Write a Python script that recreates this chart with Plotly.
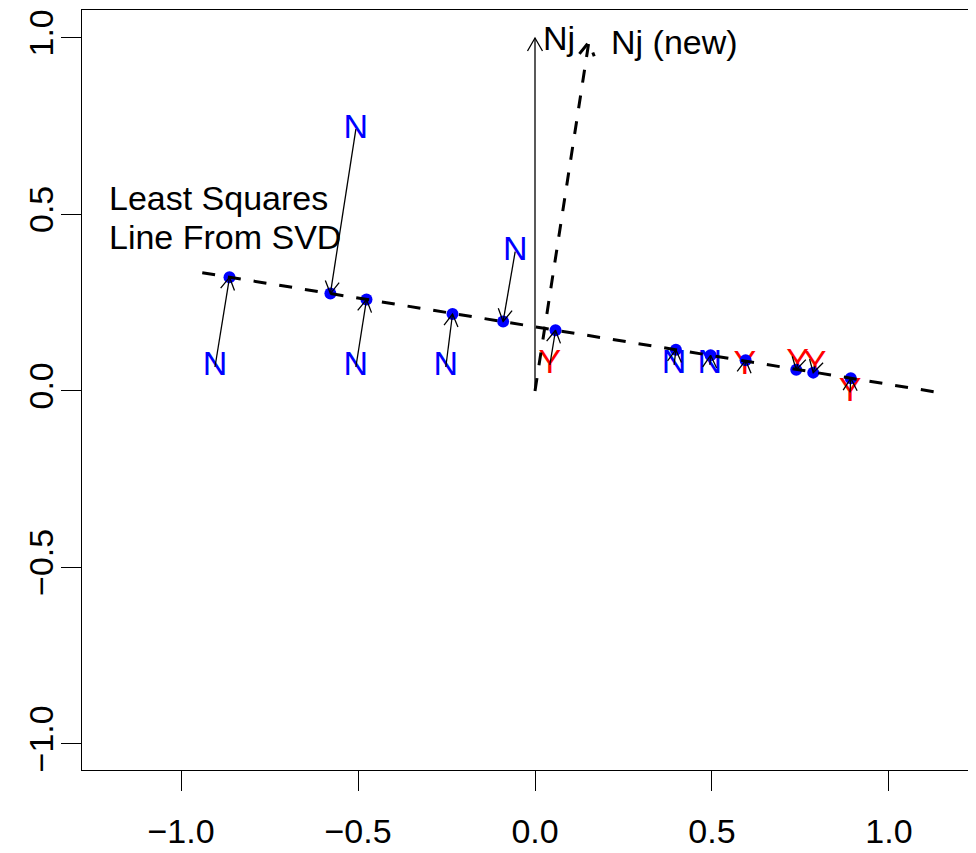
import math
import plotly.graph_objects as go

# ---- data ----
labels = ["N", "N", "N", "N", "N", "Y", "N", "N", "Y", "Y", "Y", "Y"]
label_x = [-0.904, -0.506, -0.506, -0.252, -0.056, 0.042, 0.393, 0.494, 0.593, 0.742, 0.791, 0.890]
label_y = [0.068, 0.742, 0.068, 0.068, 0.395, 0.074, 0.074, 0.074, 0.071, 0.077, 0.071, -0.004]

proj_x = [-0.863, -0.578, -0.476, -0.233, -0.090, 0.058, 0.398, 0.496, 0.595, 0.738, 0.786, 0.892]
proj_y = [0.322, 0.276, 0.259, 0.218, 0.197, 0.172, 0.117, 0.101, 0.087, 0.060, 0.052, 0.036]

ls_x = [-0.94, 1.145]
ls_y = [0.335, -0.005]

nj_x = [0.0, 0.0]
nj_y = [0.0, 1.0]
njnew_x = [0.0, 0.152]
njnew_y = [0.0, 0.988]

tick_vals = [-1.0, -0.5, 0.0, 0.5, 1.0]
tick_text = ["\u22121.0", "\u22120.5", "0.0", "0.5", "1.0"]

label_colors = {"N": "#0000FF", "Y": "#FF0000"}

# ---- layout geometry (page has an 8px body margin) ----
OFF = 8
W, H = 976, 853
ML, MT = 82 - OFF, 10 - OFF
MR = OFF
MB = H - (770 - OFF)
XR = [-1.2797, 1.2458]
YR = [-1.0737, 1.0793]
PX = (W - ML - MR) / (XR[1] - XR[0])
PY = (H - MT - MB) / (YR[1] - YR[0])

FONT = "Liberation Sans, Arial, sans-serif"
FS = 34


def head(x0, y0, x1, y1, length_px=14.0, angle_deg=30.0):
    """open V arrow head (R style) at (x1, y1), computed in pixel space"""
    a = math.atan2((y1 - y0) * PY, (x1 - x0) * PX)
    xs, ys = [], []
    for s in (1, -1):
        b = a + math.pi - s * math.radians(angle_deg)
        xs.append(x1 + length_px * math.cos(b) / PX)
        ys.append(y1 + length_px * math.sin(b) / PY)
    return [xs[0], x1, xs[1]], [ys[0], y1, ys[1]]


fig = go.Figure()

# labels (drawn first, underneath)
fig.add_trace(go.Scatter(
    x=label_x, y=label_y, mode="text", text=labels,
    textposition="middle center",
    textfont=dict(family=FONT, size=FS, color=[label_colors[l] for l in labels]),
    hoverinfo="skip", showlegend=False))

# projected points
fig.add_trace(go.Scatter(
    x=proj_x, y=proj_y, mode="markers",
    marker=dict(size=12, color="#0000FF", line=dict(width=0)),
    hoverinfo="skip", showlegend=False))

# least squares line
fig.add_trace(go.Scatter(
    x=ls_x, y=ls_y, mode="lines",
    line=dict(color="black", width=3, dash="13px,13px"),
    hoverinfo="skip", showlegend=False))

# arrows from labels to projections
ax, ay = [], []
for x0, y0, x1, y1 in zip(label_x, label_y, proj_x, proj_y):
    ax += [x0, x1, None]
    ay += [y0, y1, None]
    hx, hy = head(x0, y0, x1, y1)
    ax += hx + [None]
    ay += hy + [None]
fig.add_trace(go.Scatter(
    x=ax, y=ay, mode="lines", line=dict(color="black", width=1.3),
    hoverinfo="skip", showlegend=False))

# Nj solid arrow
hx, hy = head(nj_x[0], nj_y[0], nj_x[1], nj_y[1], length_px=15)
fig.add_trace(go.Scatter(
    x=nj_x + [None] + hx, y=nj_y + [None] + hy, mode="lines",
    line=dict(color="black", width=1.3),
    hoverinfo="skip", showlegend=False))

# Nj (new) dashed arrow
hx, hy = head(njnew_x[0], njnew_y[0], njnew_x[1], njnew_y[1], length_px=15)
fig.add_trace(go.Scatter(
    x=njnew_x + [None] + hx, y=njnew_y + [None] + hy, mode="lines",
    line=dict(color="black", width=3, dash="13px,13px"),
    hoverinfo="skip", showlegend=False))

annots = [
    dict(x=0.018, y=1.0, text="Nj", xanchor="left", yanchor="middle"),
    dict(x=0.210, y=0.99, text="Nj (new)", xanchor="left", yanchor="middle"),
    dict(x=-1.208, y=0.548, text="Least Squares", xanchor="left", yanchor="middle"),
    dict(x=-1.208, y=0.435, text="Line From SVD", xanchor="left", yanchor="middle"),
]
for a in annots:
    fig.add_annotation(xref="x", yref="y", showarrow=False,
                       font=dict(family=FONT, size=FS, color="black"), **a)

fig.update_layout(
    width=W, height=H,
    margin=dict(l=ML, r=MR, t=MT, b=MB, pad=0, autoexpand=False),
    paper_bgcolor="white", plot_bgcolor="white",
    showlegend=False,
    font=dict(family=FONT, size=FS, color="black"),
)
fig.update_xaxes(
    range=XR, showgrid=False, zeroline=False, automargin=False,
    showline=True, linecolor="black", linewidth=1.3, mirror=True,
    ticks="outside", ticklen=20, tickwidth=1, tickcolor="black",
    tickvals=tick_vals, ticktext=tick_text,
    tickfont=dict(family=FONT, size=FS, color="black"),
    ticklabelstandoff=11,
)
fig.update_yaxes(
    range=YR, showgrid=False, zeroline=False, automargin=False,
    showline=True, linecolor="black", linewidth=1.3, mirror=False,
    ticks="outside", ticklen=20, tickwidth=1, tickcolor="black",
    tickvals=tick_vals, ticktext=tick_text, tickangle=-90,
    tickfont=dict(family=FONT, size=FS, color="black"),
    ticklabelstandoff=-6,
)

fig.write_html("out.html")
